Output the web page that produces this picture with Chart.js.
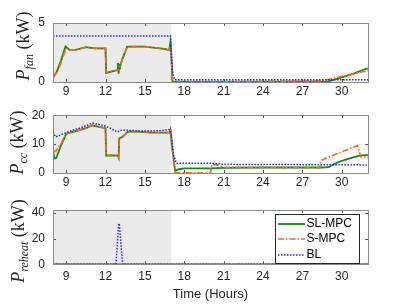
<!DOCTYPE html>
<html>
<head>
<meta charset="utf-8">
<script src="https://cdn.jsdelivr.net/npm/chart.js@4/dist/chart.umd.min.js"></script>
<style>
  body { margin: 0; background: #fff; }
  #wrap { position: relative; width: 407px; height: 305px; }
  canvas { position: absolute; left: 0; }
</style>
</head>
<body>
<div id="wrap">
  <canvas id="fan" width="407" height="100" style="top:0"></canvas>
  <canvas id="cc" width="407" height="95" style="top:100px"></canvas>
  <canvas id="reheat" width="407" height="110" style="top:195px"></canvas>
</div>
<script>
// x axis
const xTicks = [9, 12, 15, 18, 21, 24, 27, 30];
const occupied = [8, 17]; // shaded hours

// P_fan (kW)
const fanSlT = [8.0, 8.3, 8.6, 8.95, 9.3, 9.8, 10.5, 11.2, 11.8, 12.0, 12.05, 12.5, 12.9, 12.95, 13.0, 13.05, 13.1, 13.3, 13.65, 14.2, 15.0, 15.8, 16.5, 16.85, 16.95, 17.0, 17.1, 17.3, 20, 24, 28, 29.0, 30, 31, 31.8, 32];
const fanSl  = [0.35, 0.9, 1.8, 3.0, 2.7, 2.75, 2.95, 2.85, 2.85, 2.85, 0.75, 0.9, 1.0, 1.6, 0.7, 1.4, 1.3, 2.0, 3.0, 3.0, 3.0, 2.9, 2.8, 2.7, 3.4, 2.6, 0.05, 0.02, 0.02, 0.02, 0.03, 0.05, 0.4, 0.75, 1.1, 1.15];
const fanST  = [8.0, 8.3, 8.6, 8.95, 9.1, 9.3, 9.8, 10.5, 11.2, 11.8, 12.0, 12.05, 12.5, 12.9, 13.0, 13.05, 13.1, 13.3, 13.65, 14.2, 15.0, 15.8, 16.5, 16.85, 16.95, 17.0, 17.1, 17.3, 20, 24, 28.5, 29.5, 30.5, 31.5, 32];
const fanS   = [0.45, 0.8, 1.6, 2.7, 2.85, 2.7, 2.75, 2.95, 2.85, 2.85, 2.85, 0.8, 0.9, 1.0, 1.0, 1.3, 1.3, 2.0, 2.95, 3.0, 3.0, 2.9, 2.8, 2.7, 3.0, 2.6, 0.05, 0.0, 0.0, 0.05, 0.1, 0.35, 0.6, 0.85, 0.95];
const fanBlT = [8, 16.95, 17.1, 17.25, 32];
const fanBl  = [3.9, 3.9, 1.0, 0.2, 0.2];

// P_cc (kW)
const ccSlT = [8.0, 8.1, 8.25, 8.6, 9.0, 9.5, 10.0, 10.5, 11.0, 11.5, 12.0, 12.05, 12.5, 12.95, 13.0, 13.05, 13.3, 13.7, 14.5, 15.5, 16.5, 16.9, 16.95, 17.05, 17.3, 17.6, 18.0, 20, 21, 24, 28.5, 29.0, 29.5, 30, 30.5, 31, 31.5, 32];
const ccSl  = [7.8, 5.0, 5.2, 9.5, 13.5, 14.2, 14.8, 15.5, 16.5, 16.0, 15.5, 6.0, 6.1, 6.0, 5.4, 12.0, 12.5, 14.3, 14.3, 14.0, 14.0, 14.0, 14.8, 10, 0.8, 1.3, 1.6, 1.6, 1.8, 1.9, 1.9, 2.0, 3.3, 4.2, 4.9, 5.6, 6.1, 6.2];
const ccST  = [8.0, 8.2, 8.6, 9.0, 9.5, 10.0, 10.5, 11.0, 11.5, 12.0, 12.05, 12.5, 12.95, 13.0, 13.05, 13.3, 13.7, 14.5, 15.5, 16.5, 16.9, 16.95, 17.05, 17.3, 17.6, 20.0, 20.1, 20.5, 21, 24, 28.3, 28.4, 29.7, 31.2, 31.45, 32];
const ccS   = [7.5, 7.5, 10, 13.7, 14.2, 14.8, 15.5, 16.5, 16.0, 15.5, 6.2, 6.2, 6.0, 5.6, 12.0, 12.5, 14.3, 14.3, 14.0, 14.0, 14.0, 14.5, 10, 0.2, 0.1, 0.0, 3.0, 2.8, 2.0, 1.9, 1.8, 4.3, 6.8, 9.5, 5.6, 5.5];
const ccBlT = [8.0, 8.2, 8.5, 9.0, 9.5, 10, 10.5, 11, 11.5, 12, 12.5, 12.9, 13.2, 13.5, 14, 15, 16, 16.9, 17.0, 17.2, 17.4, 20, 21, 32];
const ccBl  = [14.2, 12.5, 13.0, 14.0, 14.8, 15.5, 16.3, 17.3, 16.8, 16.2, 15.2, 14.2, 14.8, 14.8, 14.7, 14.5, 14.6, 15.0, 14.0, 6, 3.4, 3.4, 3.0, 2.8];

// P_reheat (kW)
const rhSlT = [8, 32];
const rhSl  = [0, 0];
const rhST  = [8, 32];
const rhS   = [0, 0];
const rhBlT = [8, 12.8, 13.0, 13.05, 13.3, 32];
const rhBl  = [0, 0, 31.5, 31.5, 0, 0];

const names = ['SL-MPC', 'S-MPC', 'BL'];
const colors = ['#0f8c0f', '#ff6419', '#2424ff'];
const dashes = [[], [6, 2, 1.5, 2], [1.5, 1.5]];
const widths = [1.8, 1.6, 1.5];

const tickFont = { family: 'Liberation Sans, Arial, sans-serif', size: 12 };
const ink = '#262626';

function pts(t, v) { return t.map((x, i) => ({ x: x, y: v[i] })); }

function sets(series) {
  // SL-MPC drawn first, BL on top
  return series.map((s, i) => ({
    label: names[i],
    data: pts(s[0], s[1]),
    borderColor: colors[i],
    borderWidth: widths[i],
    borderDash: dashes[i],
    pointRadius: 0,
    tension: 0,
    order: 3 - i
  }));
}

const frame = {
  id: 'frame',
  beforeDatasetsDraw(chart) {
    const { ctx, chartArea: a, scales: { x } } = chart;
    const x0 = x.getPixelForValue(occupied[0]), x1 = x.getPixelForValue(occupied[1]);
    ctx.save();
    ctx.fillStyle = '#ebebeb';
    ctx.fillRect(x0, a.top, x1 - x0, a.bottom - a.top);
    ctx.restore();
  },
  afterDatasetsDraw(chart) {
    const { ctx, chartArea: a, scales: { x, y } } = chart;
    ctx.save();
    ctx.strokeStyle = '#555';
    ctx.lineWidth = 1;
    ctx.beginPath();
    x.ticks.forEach(t => {
      const px = Math.round(x.getPixelForValue(t.value)) + 0.5;
      ctx.moveTo(px, a.bottom); ctx.lineTo(px, a.bottom - 3);
      ctx.moveTo(px, a.top); ctx.lineTo(px, a.top + 3);
    });
    y.ticks.forEach(t => {
      const py = Math.round(y.getPixelForValue(t.value)) + 0.5;
      ctx.moveTo(a.left, py); ctx.lineTo(a.left + 3, py);
      ctx.moveTo(a.right, py); ctx.lineTo(a.right - 3, py);
    });
    ctx.stroke();
    ctx.strokeStyle = '#8a8a8a';
    ctx.strokeRect(Math.round(a.left) + 0.5, Math.round(a.top) + 0.5,
      Math.round(a.right - a.left), Math.round(a.bottom - a.top));
    ctx.restore();
  },
  afterDraw(chart) {
    const o = chart.options.plugins.ylab;
    const ctx = chart.ctx;
    ctx.save();
    ctx.translate(o.x, o.y);
    ctx.rotate(-Math.PI / 2);
    ctx.fillStyle = ink;
    ctx.textBaseline = 'alphabetic';
    const big = 'italic 18px "Liberation Serif", "DejaVu Serif", serif';
    const small = 'italic 12px "Liberation Serif", "DejaVu Serif", serif';
    const up = '18px "Liberation Serif", "DejaVu Serif", serif';
    ctx.font = big; const wP = ctx.measureText('P').width;
    ctx.font = small; const wS = ctx.measureText(o.sub).width;
    ctx.font = up; const wU = ctx.measureText(' (kW)').width;
    let cx = -(wP + wS + wU) / 2;
    ctx.font = big; ctx.fillText('P', cx, 0); cx += wP;
    ctx.font = small; ctx.fillText(o.sub, cx, 3.5); cx += wS;
    ctx.font = up; ctx.fillText(' (kW)', cx, 0);
    ctx.restore();

    if (o.legend) {
      ctx.save();
      ctx.fillStyle = '#fff';
      ctx.fillRect(275.5, 19.5, 84, 49);
      ctx.strokeStyle = ink;
      ctx.lineWidth = 1;
      ctx.strokeRect(275.5, 19.5, 84, 49);
      const rows = [29, 44, 60];
      chart.data.datasets.forEach((d, i) => {
        ctx.strokeStyle = d.borderColor;
        ctx.lineWidth = d.borderWidth;
        ctx.setLineDash(d.borderDash);
        ctx.beginPath();
        ctx.moveTo(278, rows[i]); ctx.lineTo(305, rows[i]);
        ctx.stroke();
        ctx.setLineDash([]);
        ctx.fillStyle = '#000';
        ctx.font = '12px "Liberation Sans", Arial, sans-serif';
        ctx.textBaseline = 'middle';
        ctx.fillText(d.label, 306.5, rows[i]);
      });
      ctx.restore();
    }
  }
};

function makeChart(id, series, ymax, yTicks, padTop, xHeight, xPad, ylab, withTitle) {
  return new Chart(document.getElementById(id), {
    type: 'line',
    data: { datasets: sets(series) },
    options: {
      responsive: false,
      animation: false,
      devicePixelRatio: 1,
      layout: { padding: { top: padTop, right: 39, left: 0, bottom: 0 } },
      plugins: {
        legend: { display: false },
        tooltip: { enabled: false },
        ylab: ylab
      },
      scales: {
        x: {
          type: 'linear', min: 8, max: 32,
          afterBuildTicks: s => { s.ticks = xTicks.map(v => ({ value: v })); },
          afterFit: s => { s.height = xHeight; },
          grid: { display: false, drawTicks: false },
          border: { display: false },
          ticks: { font: tickFont, color: ink, padding: xPad, maxRotation: 0 },
          title: withTitle ? { display: true, text: 'Time (Hours)', color: ink,
            font: { family: tickFont.family, size: 13 }, padding: { top: 0, bottom: 3 } } : { display: false }
        },
        y: {
          min: 0, max: ymax,
          afterBuildTicks: s => { s.ticks = yTicks.map(v => ({ value: v })); },
          afterFit: s => { s.width = 53; },
          grid: { display: false, drawTicks: false },
          border: { display: false },
          ticks: { font: tickFont, color: ink, padding: 8 }
        }
      }
    },
    plugins: [frame]
  });
}

makeChart('fan', [[fanSlT, fanSl], [fanST, fanS], [fanBlT, fanBl]], 5, [0, 5], 23, 18, 2,
  { x: 29, y: 46, sub: 'fan' }, false);
makeChart('cc', [[ccSlT, ccSl], [ccST, ccS], [ccBlT, ccBl]], 20, [0, 10, 20], 14, 22, 2,
  { x: 23, y: 42.5, sub: 'cc' }, false);
makeChart('reheat', [[rhSlT, rhSl], [rhST, rhS], [rhBlT, rhBl]], 42, [0, 20, 40], 15, 40.7, 5,
  { x: 24, y: 46, sub: 'reheat', legend: true }, true);
</script>
</body>
</html>
